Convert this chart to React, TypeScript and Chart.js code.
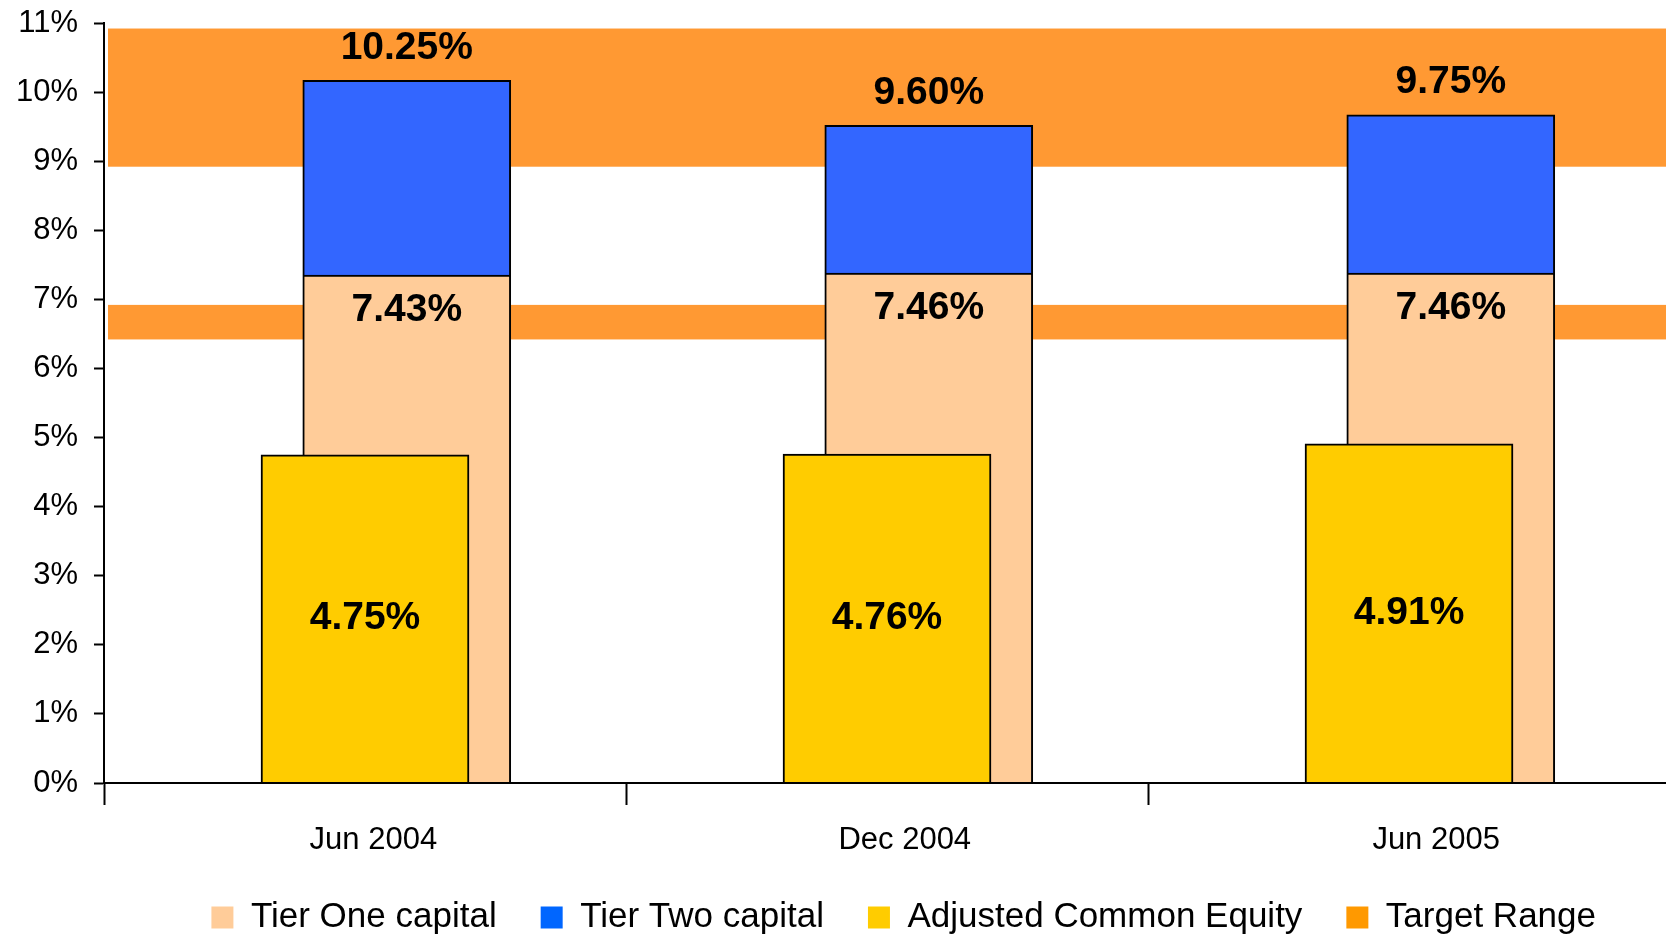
import React, { useEffect, useRef } from 'react';
import { Chart, registerables } from 'chart.js';

Chart.register(...registerables);

// ---- data ----
const CATEGORIES = ['Jun 2004', 'Dec 2004', 'Jun 2005'];
const TIER_ONE = [7.43, 7.46, 7.46];
const TOTAL_CAPITAL = [10.25, 9.6, 9.75];
const ADJ_COMMON_EQUITY = [4.75, 4.76, 4.91];
const TARGET_RANGES: [number, number][] = [
  [6.5, 7.0],
  [9.0, 11.0],
];
const Y_MIN = 0;
const Y_MAX = 11;
const Y_STEP = 1;
const LEGEND_LABELS = ['Tier One capital', 'Tier Two capital', 'Adjusted Common Equity', 'Target Range'];

// ---- styles ----
const FONT = '"Liberation Sans", Arial, sans-serif';
const PEACH = '#FFCC99';
const BLUE = '#3366FF';
const YELLOW = '#FFCC00';
const BAND = '#FF9933';
const LEGEND_COLORS = ['#FFCC99', '#0066FF', '#FFCC00', '#FF9900'];
const TIER_AXIS_SHIFT = 0.08; // secondary axis offset (value units)
const TIER_X_SHIFT = 0.08; // tier column offset (category units)
const X_MAX = 2.4923;
const LABEL_STEP = 1.018;
const LABEL_OFFSET = 0.016;
const BAR_THICKNESS = 208;
const BAND_INSET = 4;
const LEGEND_RIGHT_INSET = 26;

const TIER_TWO = TOTAL_CAPITAL.map((t, i) => Number((t - TIER_ONE[i]).toFixed(2)));
const fmt = (v: number) => v.toFixed(2) + '%';

const bandPlugin = {
  id: 'targetBands',
  beforeDatasetsDraw(chart: any) {
    const { ctx, chartArea } = chart;
    const y2 = chart.scales.y2;
    ctx.save();
    ctx.fillStyle = BAND;
    TARGET_RANGES.forEach(([lo, hi]) => {
      const top = y2.getPixelForValue(hi);
      const bottom = y2.getPixelForValue(lo);
      ctx.fillRect(chartArea.left + BAND_INSET, top, chartArea.right - chartArea.left - BAND_INSET, bottom - top);
    });
    ctx.restore();
  },
};

const valueLabelPlugin = {
  id: 'valueLabels',
  afterDatasetsDraw(chart: any) {
    const ctx = chart.ctx;
    ctx.save();
    ctx.font = `bold 39px ${FONT}`;
    ctx.fillStyle = '#000';
    ctx.textAlign = 'center';
    ctx.textBaseline = 'middle';
    const ace = chart.getDatasetMeta(0).data;
    const t1 = chart.getDatasetMeta(1).data;
    const t2 = chart.getDatasetMeta(2).data;
    CATEGORIES.forEach((_, i) => {
      const a = ace[i].getProps(['x', 'y', 'base'], true);
      ctx.fillText(fmt(ADJ_COMMON_EQUITY[i]), a.x, (a.y + a.base) / 2);
      const b = t1[i].getProps(['x', 'y', 'base'], true);
      ctx.fillText(fmt(TIER_ONE[i]), b.x, b.y + 35.5);
      const c = t2[i].getProps(['x', 'y', 'base'], true);
      ctx.fillText(fmt(TOTAL_CAPITAL[i]), c.x, c.y - 32.5);
    });
    ctx.restore();
  },
};

const legendShiftPlugin = {
  id: 'legendShift',
  afterLayout(chart: any) {
    if (chart.legend) chart.legend.right -= LEGEND_RIGHT_INSET;
  },
};

const categoryTicks = (scale: any) => {
  scale.ticks = CATEGORIES.map((_, i) => ({ value: i }));
};

export default function App() {
  const ref = useRef<HTMLCanvasElement>(null);
  useEffect(() => {
    document.body.style.margin = '0';
    document.body.style.overflow = 'hidden';
    const nb = CATEGORIES.length;
    const barCommon = {
      borderColor: '#000',
      borderWidth: 2,
      grouped: false,
      barThickness: BAR_THICKNESS,
      maxBarThickness: BAR_THICKNESS,
    };
    const chart = new Chart(ref.current as HTMLCanvasElement, {
      type: 'bar',
      data: {
        datasets: [
          {
            ...barCommon,
            label: 'Adjusted Common Equity',
            data: ADJ_COMMON_EQUITY.map((v, i) => ({ x: i, y: v })),
            backgroundColor: YELLOW,
            xAxisID: 'x',
            yAxisID: 'y',
          },
          {
            ...barCommon,
            label: 'Tier One capital',
            data: TIER_ONE.map((v, i) => ({ x: i, y: v })),
            backgroundColor: PEACH,
            xAxisID: 'x2',
            yAxisID: 'y2',
            clip: { left: false, right: false, top: false, bottom: 1 },
          },
          {
            ...barCommon,
            label: 'Tier Two capital',
            data: TIER_TWO.map((v, i) => ({ x: i, y: v })),
            backgroundColor: BLUE,
            xAxisID: 'x2',
            yAxisID: 'y2',
            clip: { left: false, right: false, top: false, bottom: 1 },
          },
        ] as any,
      },
      options: {
        responsive: false,
        maintainAspectRatio: false,
        animation: false,
        events: [],
        layout: { padding: { top: 23, left: 0, right: 0, bottom: -10 } },
        scales: {
          x: {
            type: 'linear',
            min: -0.5,
            max: X_MAX,
            bounds: 'data',
            offset: false,
            afterBuildTicks: (scale: any) => {
              const bounds = CATEGORIES.map((_, i) => ({ value: i - 0.5 }));
              const labels = CATEGORIES.map((_, i) => ({ value: i * LABEL_STEP + LABEL_OFFSET }));
              scale.ticks = [...bounds, ...labels];
            },
            afterFit: (scale: any) => {
              scale.height = 73;
              scale.paddingLeft = 0;
              scale.paddingRight = 0;
            },
            ticks: {
              autoSkip: false,
              maxRotation: 0,
              minRotation: 0,
              padding: 16.4,
              color: '#000',
              font: { family: FONT, size: 31 },
              callback: (_v: any, i: number) => (i >= nb ? CATEGORIES[i - nb] : ''),
            },
            grid: {
              offset: false,
              drawOnChartArea: false,
              drawTicks: true,
              tickLength: 22,
              tickWidth: 2,
              color: '#000',
              tickColor: (ctx: any) => (ctx.index < nb ? '#000' : 'rgba(0,0,0,0)'),
            },
            border: { display: true, color: '#000', width: 2, z: 1 },
          },
          x2: {
            type: 'linear',
            display: false,
            min: -0.5 - TIER_X_SHIFT,
            max: X_MAX - TIER_X_SHIFT,
            bounds: 'data',
            offset: false,
            stacked: true,
            afterBuildTicks: categoryTicks,
            grid: { offset: false },
          },
          y: {
            type: 'linear',
            position: 'left',
            min: Y_MIN,
            max: Y_MAX,
            beginAtZero: false,
            afterFit: (scale: any) => {
              scale.width = 104;
              scale.paddingTop = 0;
              scale.paddingBottom = 0;
            },
            ticks: {
              stepSize: Y_STEP,
              padding: 16,
              color: '#000',
              font: { family: FONT, size: 31 },
              callback: (v: any) => v + '%',
            },
            grid: {
              drawOnChartArea: false,
              drawTicks: true,
              tickLength: 10,
              tickWidth: 2,
              color: '#000',
              tickColor: '#000',
            },
            border: { display: true, color: '#000', width: 2, z: 1 },
          },
          y2: {
            type: 'linear',
            display: false,
            position: 'left',
            min: Y_MIN + TIER_AXIS_SHIFT,
            max: Y_MAX + TIER_AXIS_SHIFT,
            beginAtZero: false,
            stacked: true,
          },
        } as any,
        plugins: {
          tooltip: { enabled: false },
          legend: {
            position: 'bottom',
            align: 'end',
            fullSize: false,
            onClick: () => {},
            labels: {
              boxWidth: 22,
              boxHeight: 22,
              padding: 44,
              color: '#000',
              font: { family: FONT, size: 35 },
              generateLabels: () =>
                LEGEND_LABELS.map((text, i) => ({
                  text,
                  fillStyle: LEGEND_COLORS[i],
                  strokeStyle: LEGEND_COLORS[i],
                  lineWidth: 0,
                  hidden: false,
                  fontColor: '#000',
                  datasetIndex: i,
                })),
            },
          } as any,
        },
      },
      plugins: [bandPlugin, valueLabelPlugin, legendShiftPlugin],
    } as any);
    return () => chart.destroy();
  }, []);
  return <canvas ref={ref} width={1666} height={935} style={{ display: 'block', width: 1666, height: 935 }} />;
}
